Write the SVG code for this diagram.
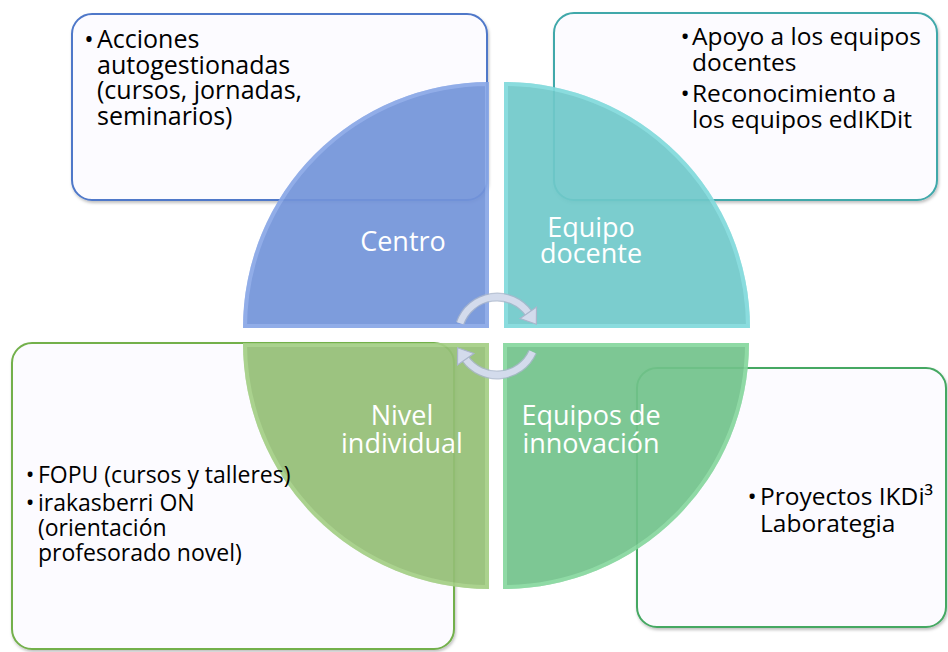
<svg xmlns="http://www.w3.org/2000/svg" width="948" height="652" viewBox="0 0 948 652">
<style>
.box{fill:#fcfbff;stroke-width:2;filter:url(#sh)}
.wedge{opacity:0.92}
.rim{fill:none;stroke-width:8;opacity:0.5}
.bt{font-family:"Open Sans","Liberation Sans",sans-serif;fill:#000}
.lbl{font-family:"Open Sans","Liberation Sans",sans-serif;font-size:27px;fill:#fff;text-anchor:middle}
.cyc-under{fill:none;stroke:#aab6cc;stroke-width:9;opacity:0.8}
.cyc{fill:none;stroke:#d3dbec;stroke-width:6.5}
</style>
<defs>
<filter id="sh" x="-5%" y="-5%" width="110%" height="115%">
<feDropShadow dx="1" dy="2" stdDeviation="1.5" flood-color="#000" flood-opacity="0.25"/>
</filter>
<marker id="ah" markerUnits="userSpaceOnUse" markerWidth="16" markerHeight="22" viewBox="-1 -1 16 22" refX="1" refY="10" orient="auto">
<path d="M0,0 L14,10 L0,20 Z" fill="#d3dbec" stroke="#aab6cc" stroke-width="1.2"/>
</marker>
<clipPath id="cTL"><path d="M489,328 L243,328 A246,246 0 0 1 489,82 Z"/></clipPath>
<clipPath id="cTR"><path d="M504,328 L504,82 A246,246 0 0 1 750,328 Z"/></clipPath>
<clipPath id="cBR"><path d="M503,343 L749,343 A246,246 0 0 1 503,589 Z"/></clipPath>
<clipPath id="cBL"><path d="M489,343 L489,589 A246,246 0 0 1 243,343 Z"/></clipPath>
</defs>
<rect width="948" height="652" fill="#fff"/>

<g id="box-centro"><rect class="box" x="72" y="14" width="415" height="186" rx="20" stroke="#4f78c9"/></g>
<g id="box-equipo-docente"><rect class="box" x="554" y="13" width="383" height="187" rx="20" stroke="#3fa8aa"/></g>
<g id="box-nivel-individual"><rect class="box" x="12" y="343" width="442" height="306" rx="20" stroke="#73b04c"/></g>
<g id="box-equipos-innovacion"><rect class="box" x="637" y="368" width="309" height="259" rx="20" stroke="#45a862"/></g>

<g id="q-centro" class="wedge">
<path d="M489,328 L243,328 A246,246 0 0 1 489,82 Z" fill="#7394da"/>
<path class="rim" clip-path="url(#cTL)" d="M489,328 L243,328 A246,246 0 0 1 489,82 Z" stroke="#9dbaf4"/>
</g>
<g id="q-equipo-docente" class="wedge">
<path d="M504,328 L504,82 A246,246 0 0 1 750,328 Z" fill="#70c9ca"/>
<path class="rim" clip-path="url(#cTR)" d="M504,328 L504,82 A246,246 0 0 1 750,328 Z" stroke="#92eced"/>
</g>
<g id="q-equipos-innovacion" class="wedge">
<path d="M503,343 L749,343 A246,246 0 0 1 503,589 Z" fill="#72c38b"/>
<path class="rim" clip-path="url(#cBR)" d="M503,343 L749,343 A246,246 0 0 1 503,589 Z" stroke="#9aecb1"/>
</g>
<g id="q-nivel-individual" class="wedge">
<path d="M489,343 L489,589 A246,246 0 0 1 243,343 Z" fill="#94bf76"/>
<path class="rim" clip-path="url(#cBL)" d="M489,343 L489,589 A246,246 0 0 1 243,343 Z" stroke="#b3e094"/>
</g>

<g id="text-centro" class="bt" font-size="25">
<text x="89" y="48" text-anchor="middle">•</text>
<text x="97" y="48">Acciones<tspan x="97" dy="25.5">autogestionadas</tspan><tspan x="97" dy="25.5">(cursos, jornadas,</tspan><tspan x="97" dy="25.5">seminarios)</tspan></text>
</g>
<g id="text-equipo-docente" class="bt" font-size="24.5">
<text x="685" y="45" text-anchor="middle">•</text>
<text x="692" y="45">Apoyo a los equipos<tspan x="692" dy="25.5">docentes</tspan></text>
<text x="685" y="102" text-anchor="middle">•</text>
<text x="692" y="102">Reconocimiento a<tspan x="692" dy="25.5">los equipos edIKDit</tspan></text>
</g>
<g id="text-nivel-individual" class="bt" font-size="23">
<text x="30" y="483" text-anchor="middle">•</text>
<text x="38" y="483">FOPU (cursos y talleres)</text>
<text x="30" y="511" text-anchor="middle">•</text>
<text x="38" y="511">irakasberri ON<tspan x="38" dy="25">(orientación</tspan><tspan x="38" dy="25">profesorado novel)</tspan></text>
</g>
<g id="text-equipos-innovacion" class="bt" font-size="24.5">
<text x="752" y="505" text-anchor="middle">•</text>
<text x="760" y="505">Proyectos IKDi³<tspan x="760" dy="27">Laborategia</tspan></text>
</g>

<g id="labels">
<text class="lbl" x="403" y="251">Centro</text>
<text class="lbl" x="591" y="237">Equipo<tspan x="591" dy="26">docente</tspan></text>
<text class="lbl" x="402" y="425">Nivel<tspan x="402" dy="28">individual</tspan></text>
<text class="lbl" x="591" y="425">Equipos de<tspan x="591" dy="28">innovación</tspan></text>
</g>

<g id="connectors">
<path class="cyc-under" d="M460.1,323.3 A39,39 0 0 1 528.9,313.6"/>
<path class="cyc" d="M460.1,323.3 A39,39 0 0 1 528.9,313.6" marker-end="url(#ah)"/>
<path class="cyc-under" d="M532.6,351.9 A39,39 0 0 1 465.1,358.4"/>
<path class="cyc" d="M532.6,351.9 A39,39 0 0 1 465.1,358.4" marker-end="url(#ah)"/>
</g>
</svg>
